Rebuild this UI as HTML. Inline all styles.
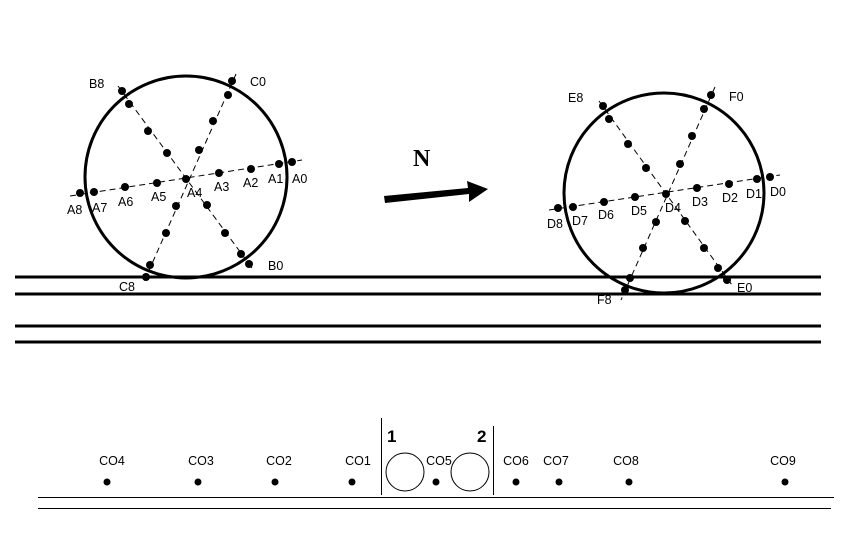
<!DOCTYPE html>
<html><head><meta charset="utf-8"><style>
html,body{margin:0;padding:0;background:#fff;width:854px;height:534px;overflow:hidden}
svg{display:block}
text{font-family:"Liberation Sans",sans-serif;font-size:12.5px;fill:#000}
.c{shape-rendering:crispEdges}
</style></head><body>
<svg width="854" height="534" viewBox="0 0 854 534" xmlns="http://www.w3.org/2000/svg">
<g stroke="#000" stroke-width="3" class="c">
<line x1="15" y1="277" x2="821" y2="277"/>
<line x1="15" y1="294" x2="821" y2="294"/>
<line x1="15" y1="326" x2="821" y2="326"/>
<line x1="15" y1="342" x2="821" y2="342"/>
</g>
<circle cx="186" cy="177" r="101" fill="none" stroke="#000" stroke-width="3"/>
<g stroke="#000" stroke-width="1" stroke-dasharray="6,4">
<line x1="70" y1="196" x2="302" y2="160"/>
<line x1="118" y1="86" x2="252" y2="268"/>
<line x1="236" y1="74" x2="143" y2="284"/>
</g>
<g fill="#000">
<circle cx="292" cy="162" r="4"/><circle cx="279" cy="164" r="4"/><circle cx="251" cy="169" r="4"/><circle cx="219" cy="173" r="4"/><circle cx="186" cy="179" r="4"/><circle cx="157" cy="183" r="4"/><circle cx="125" cy="187" r="4"/><circle cx="94" cy="192" r="4"/><circle cx="80" cy="193" r="4"/>
<circle cx="122" cy="91" r="4"/><circle cx="129" cy="104" r="4"/><circle cx="148" cy="131" r="4"/><circle cx="167" cy="153" r="4"/><circle cx="207" cy="205" r="4"/><circle cx="225" cy="233" r="4"/><circle cx="241" cy="254" r="4"/><circle cx="249" cy="264" r="4"/>
<circle cx="232" cy="81" r="4"/><circle cx="228" cy="95" r="4"/><circle cx="213" cy="121" r="4"/><circle cx="199" cy="150" r="4"/><circle cx="176" cy="206" r="4"/><circle cx="166" cy="233" r="4"/><circle cx="150" cy="265" r="4"/><circle cx="146" cy="277" r="4"/>
</g>
<text x="89" y="88">B8</text><text x="250" y="86">C0</text>
<text x="292" y="183">A0</text><text x="268" y="183">A1</text><text x="243" y="187">A2</text><text x="214" y="191">A3</text><text x="187" y="197">A4</text><text x="151" y="201">A5</text><text x="118" y="206">A6</text><text x="92" y="212">A7</text><text x="67" y="214">A8</text>
<text x="268" y="270">B0</text><text x="119" y="291">C8</text>
<circle cx="664" cy="193" r="100" fill="none" stroke="#000" stroke-width="3"/>
<g stroke="#000" stroke-width="1" stroke-dasharray="6,4">
<line x1="549" y1="210" x2="780" y2="175"/>
<line x1="599" y1="101" x2="732" y2="285"/>
<line x1="715" y1="87" x2="621" y2="300"/>
</g>
<g fill="#000">
<circle cx="770" cy="177" r="4"/><circle cx="757" cy="179" r="4"/><circle cx="729" cy="184" r="4"/><circle cx="697" cy="188" r="4"/><circle cx="666" cy="194" r="4"/><circle cx="635" cy="197" r="4"/><circle cx="604" cy="202" r="4"/><circle cx="573" cy="207" r="4"/><circle cx="558" cy="208" r="4"/>
<circle cx="603" cy="106" r="4"/><circle cx="609" cy="119" r="4"/><circle cx="628" cy="144" r="4"/><circle cx="646" cy="168" r="4"/><circle cx="685" cy="221" r="4"/><circle cx="704" cy="248" r="4"/><circle cx="718" cy="268" r="4"/><circle cx="727" cy="280" r="4"/>
<circle cx="711" cy="95" r="4"/><circle cx="704" cy="109" r="4"/><circle cx="692" cy="136" r="4"/><circle cx="680" cy="164" r="4"/><circle cx="656" cy="222" r="4"/><circle cx="643" cy="248" r="4"/><circle cx="630" cy="278" r="4"/><circle cx="625" cy="290" r="4"/>
</g>
<text x="568" y="102">E8</text><text x="729" y="101">F0</text>
<text x="770" y="196">D0</text><text x="746" y="198">D1</text><text x="722" y="202">D2</text><text x="692" y="206">D3</text><text x="665" y="212">D4</text><text x="631" y="215">D5</text><text x="598" y="219">D6</text><text x="572" y="225">D7</text><text x="547" y="228">D8</text>
<text x="737" y="292">E0</text><text x="597" y="304">F8</text>
<polygon points="384,196 468,188 467,181 488,189 469,202 469,194 385,203" fill="#000"/>
<text x="413" y="166" style="font-family:'Liberation Serif',serif;font-size:24px;font-weight:bold">N</text>
<line x1="38" y1="497.5" x2="834" y2="497.5" stroke="#000" stroke-width="1" class="c"/>
<line x1="38" y1="508.5" x2="831" y2="508.5" stroke="#000" stroke-width="1" class="c"/>
<line x1="381.5" y1="418" x2="381.5" y2="495" stroke="#000" stroke-width="1" class="c"/>
<line x1="493.5" y1="426" x2="493.5" y2="495" stroke="#000" stroke-width="1" class="c"/>
<circle cx="405" cy="472" r="19" fill="none" stroke="#000" stroke-width="1"/>
<circle cx="470" cy="472" r="19" fill="none" stroke="#000" stroke-width="1"/>
<text x="387" y="442" style="font-size:17px;font-weight:bold">1</text>
<text x="477" y="442" style="font-size:17px;font-weight:bold">2</text>
<g fill="#000">
<circle cx="107" cy="482" r="3.5"/><circle cx="198" cy="482" r="3.5"/><circle cx="275" cy="482" r="3.5"/><circle cx="352" cy="482" r="3.5"/><circle cx="436" cy="482" r="3.5"/><circle cx="516" cy="482" r="3.5"/><circle cx="559" cy="482" r="3.5"/><circle cx="629" cy="482" r="3.5"/><circle cx="785" cy="482" r="3.5"/>
</g>
<g text-anchor="middle" style="font-size:12px">
<text x="112" y="465">CO4</text><text x="201" y="465">CO3</text><text x="279" y="465">CO2</text><text x="358" y="465">CO1</text><text x="439" y="465">CO5</text><text x="516" y="465">CO6</text><text x="556" y="465">CO7</text><text x="626" y="465">CO8</text><text x="783" y="465">CO9</text>
</g>
</svg>
</body></html>
